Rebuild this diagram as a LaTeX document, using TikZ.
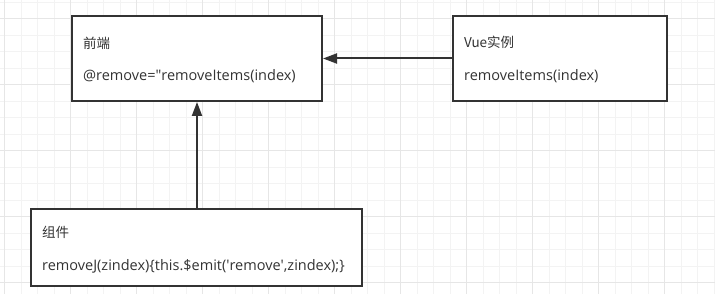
\documentclass[tikz,border=0pt]{standalone}
\usepackage{fontspec}
\setmainfont{Open Sans}
\newfontfamily\cjk{Noto Sans CJK SC}
\usepackage{tikz}
\usetikzlibrary{arrows.meta}
\usetikzlibrary{positioning}

\definecolor{gridminor}{HTML}{F3F3F3}
\definecolor{gridmajor}{HTML}{E6E6E6}
\definecolor{ink}{HTML}{333333}

\tikzset{
  box/.style={draw=ink, line width=2pt, fill=white, minimum height=85pt},
  lbl/.style={anchor=west, inner sep=0pt, text=ink, font=\fontsize{14.5}{16}\selectfont},
  ttl/.style={lbl, font=\cjk\fontsize{13.5}{16}\selectfont},
  arr/.style={draw=ink, line width=2pt, -{Triangle[length=14pt,width=10pt]}},
}

\begin{document}
\begin{tikzpicture}[x=1pt, y=-1pt]
  \useasboundingbox (0,0) rectangle (715,294);
  \fill[white] (0,0) rectangle (715,294);
  % background grid
  \foreach \i in {0,...,43}
    \draw[gridminor, line width=1pt] ({4.7+16.5*\i},0) -- ({4.7+16.5*\i},294);
  \foreach \i in {0,...,17}
    \draw[gridminor, line width=1pt] (0,{2.2+16.5*\i}) -- (715,{2.2+16.5*\i});
  \foreach \i in {0,...,10}
    \draw[gridmajor, line width=1pt] ({4.7+66*\i},0) -- ({4.7+66*\i},294);
  \foreach \i in {0,...,4}
    \draw[gridmajor, line width=1pt] (0,{18.7+66*\i}) -- (715,{18.7+66*\i});

  % boxes
  \node[box, minimum width=250pt] (front) at (197,58.5) {};
  \node[box, minimum width=214pt] (vue) at (560,58.5) {};
  \node[box, minimum width=331pt, minimum height=77pt] (comp) at (196.5,247.5) {};

  \node[ttl] (front-title) at ([xshift=12pt,yshift=15pt]front.west) {前端};
  \node[lbl] (front-code) at ([xshift=12pt,yshift=-17.5pt]front.west)
    {@remove=\textquotedbl removeItems(index)};
  \node[ttl] (vue-title) at ([xshift=12pt,yshift=16pt]vue.west) {Vue实例};
  \node[lbl] (vue-code) at ([xshift=12pt,yshift=-17.5pt]vue.west) {removeItems(index)};
  \node[ttl] (comp-title) at ([xshift=12pt,yshift=15pt]comp.west) {组件};
  \node[lbl] (comp-code) at ([xshift=12pt,yshift=-19pt]comp.west)
    {removeJ(zindex)\{this.\$emit(\textquotesingle remove\textquotesingle,zindex);\}};

  % calls
  \draw[arr] (vue.west) -- (front.east);
  \draw[arr] (comp.north -| front.south) -- (front.south);
\end{tikzpicture}
\end{document}
